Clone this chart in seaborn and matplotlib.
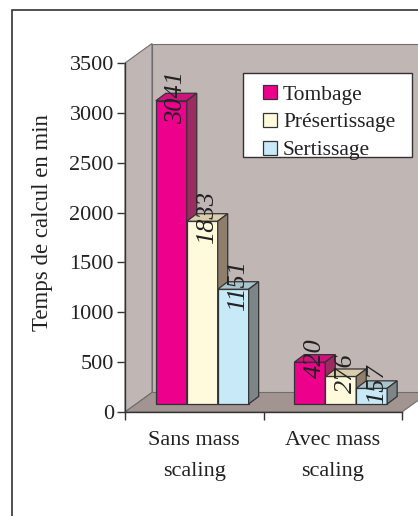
import numpy as np
import pandas as pd
import matplotlib
matplotlib.use("Agg")
import matplotlib.pyplot as plt
from matplotlib.patches import Polygon, Rectangle
from matplotlib.lines import Line2D
import seaborn as sns

# Computation time (minutes) for each forming step, with and without mass scaling
categories = ["Sans mass\nscaling", "Avec mass\nscaling"]
series = ["Tombage", "Présertissage", "Sertissage"]
tombage = [3041, 420]
presertissage = [1833, 276]
sertissage = [1151, 157]
y_ticks = [0, 500, 1000, 1500, 2000, 2500, 3000, 3500]

df = pd.DataFrame({
    "cat": categories * 3,
    "serie": [s for s in series for _ in categories],
    "val": tombage + presertissage + sertissage,
})

# front / top / side shades of each series
front = {"Tombage": "#EC008C", "Présertissage": "#FFFADC", "Sertissage": "#C8EAF8"}
top = {"Tombage": "#CF127C", "Présertissage": "#D9CDAB", "Sertissage": "#A9C4CC"}
side = {"Tombage": "#9C2B62", "Présertissage": "#8F7E6B", "Sertissage": "#7D8587"}

sns.set_theme(style="white")
plt.rcParams["font.family"] = ["Liberation Serif", "DejaVu Serif"]

W, H = 418, 516
fig = plt.figure(figsize=(W / 100, H / 100), dpi=100)
ax = fig.add_axes([125 / W, 104 / H, 293 / W, 382 / H])
ax.patch.set_alpha(0)

px_x = 138.5          # pixels per category unit
px_y = 349 / 3500     # pixels per minute

sns.barplot(data=df, x="cat", y="val", hue="serie", hue_order=series,
            palette=front, saturation=1, width=0.67, dodge=True, legend=False,
            edgecolor="#333333", linewidth=0.9, ax=ax, zorder=5)
ax.set_xlim(-0.5, -0.5 + 293 / px_x)
ax.set_ylim(0, 382 / px_y)

# seaborn adds bars hue level by hue level
bar_info = []
for k, p in enumerate(list(ax.patches)):
    bar_info.append((p, series[k // len(categories)]))
bar_info.sort(key=lambda t: t[0].get_x())

# 3-D box: walls and floor
wdx, wdy = 27 / px_x, 19.5 / px_y
wall_c, floor_c, wall_e = "#C0B6B4", "#A29591", "#6E6E6E"
x0, x1 = -0.5, 1.5
ax.add_patch(Polygon([(x0 + wdx, wdy), (x0 + wdx, 3500 + wdy), (x1 + wdx + 0.3, 3500 + wdy),
                      (x1 + wdx + 0.3, wdy)], closed=True, facecolor=wall_c,
                     edgecolor=wall_e, lw=0.8, zorder=1, clip_on=False))
ax.add_patch(Polygon([(x0, 0), (x0, 3500), (x0 + wdx, 3500 + wdy), (x0 + wdx, wdy)],
                     closed=True, facecolor=wall_c, edgecolor=wall_e, lw=0.8,
                     zorder=1.2, clip_on=False))
ax.add_patch(Polygon([(x0, 0), (x1, 0), (x1 + wdx, wdy), (x0 + wdx, wdy)],
                     closed=True, facecolor=floor_c, edgecolor=wall_e, lw=0.8,
                     zorder=1.4, clip_on=False))

# bars: shift into the box and add top and side faces
ox, oy = 8 / px_x, 8 / px_y
bdx, bdy = 10 / px_x, 7.5 / px_y
for i, (p, name) in enumerate(bar_info):
    v = p.get_height()
    x = p.get_x() + ox
    w = p.get_width()
    p.set_x(x)
    p.set_y(oy)
    z = 5 + i * 0.5
    p.set_zorder(z)
    yt = oy + v
    ax.add_patch(Polygon([(x, yt), (x + w, yt), (x + w + bdx, yt + bdy), (x + bdx, yt + bdy)],
                         closed=True, facecolor=top[name], edgecolor="#333333",
                         lw=0.9, zorder=z))
    ax.add_patch(Polygon([(x + w, oy), (x + w + bdx, oy + bdy), (x + w + bdx, yt + bdy), (x + w, yt)],
                         closed=True, facecolor=side[name], edgecolor="#333333",
                         lw=0.9, zorder=z))
    ax.text(x + w / 2 + bdx / 2, yt + bdy / 2, f"{int(round(v))}", rotation=90,
            ha="center", va="center", fontsize=19, style="italic",
            color="#222222", zorder=20, rotation_mode="anchor")

# axes: front vertical axis and floor edge
for s in ["top", "right"]:
    ax.spines[s].set_visible(False)
ax.spines["left"].set_position(("data", -0.5))
ax.spines["left"].set_bounds(0, 3500)
ax.spines["bottom"].set_bounds(-0.5, 1.5)
for s in ["left", "bottom"]:
    ax.spines[s].set_color("#333333")
    ax.spines[s].set_linewidth(1.0)
    ax.spines[s].set_zorder(3)

ax.set_yticks(y_ticks)
ax.set_yticklabels([str(t) for t in y_ticks])
ax.tick_params(axis="y", direction="out", length=6, width=1, color="#333333",
               labelsize=16, pad=2, labelcolor="#222222", left=True)
ax.set_xticks([0, 1])
ax.set_xticklabels(categories, linespacing=1.85)
ax.set_xticks([-0.5, 0.5, 1.5], minor=True)
ax.tick_params(axis="x", which="major", length=0, labelsize=16, pad=13.5, labelcolor="#222222")
ax.tick_params(axis="x", which="minor", direction="out", length=6, width=1,
               color="#333333", bottom=True)
ax.set_xlabel("")
ax.set_ylabel("")

fig.text(43 / W, 1 - 223 / H, "Temps de calcul en min", rotation=90,
         ha="center", va="center", fontsize=16.5, color="#222222")

# legend box with square keys
ax.add_patch(Rectangle((243 / W, 1 - 157 / H), 169 / W, 84 / H,
                       transform=fig.transFigure, facecolor="white",
                       edgecolor="#333333", lw=1.0, zorder=25, clip_on=False))
handles = [Line2D([], [], ls="none", marker="s", markersize=9.4,
                  markerfacecolor=front[s], markeredgecolor="#333333",
                  markeredgewidth=0.9) for s in series]
leg = ax.legend(handles, series, loc="upper left",
                bbox_to_anchor=(259 / W, 1 - 84.5 / H), bbox_transform=fig.transFigure,
                fontsize=15.5, frameon=False, handlelength=1.0,
                handletextpad=0.12, labelspacing=0.36,
                borderpad=0, borderaxespad=0)
leg.set_zorder(30)
for t in leg.get_texts():
    t.set_color("#222222")

# outer chart frame
fig.patches.append(Rectangle((12 / W, -0.1), 1.2, 1 - 10 / H + 0.1, transform=fig.transFigure,
                             fill=False, edgecolor="#333333", lw=1.2))

fig.savefig("out.png", dpi=100)
